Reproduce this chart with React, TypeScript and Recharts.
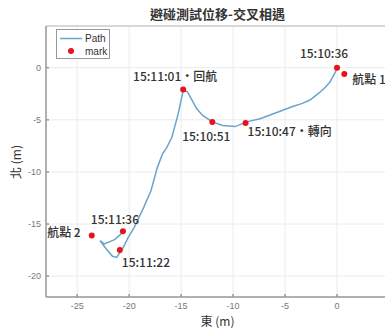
import React from 'react'
import {
  ScatterChart,
  Scatter,
  XAxis,
  YAxis,
  CartesianGrid,
  ReferenceLine,
} from 'recharts'

// 軌跡座標（東、北，單位 m），依時間順序
const pathEast = [
  0, -0.2, -0.7, -1.2, -1.7, -2.6, -3.4, -4.2, -5.8, -7.4, -8.7, -9.8, -11.0,
  -12.0, -12.9, -13.5, -13.9, -14.4, -14.8, -15.3, -15.9, -16.4, -16.8, -17.3,
  -17.9, -18.6, -19.5, -20.1, -20.6, -21.2, -21.6, -22.2, -22.8, -22.4, -21.4,
  -20.6,
]
const pathNorth = [
  0, -0.5, -1.4, -1.95, -2.4, -3.1, -3.45, -3.7, -4.3, -4.9, -5.2, -5.65, -5.55,
  -5.2, -4.6, -3.95, -3.2, -2.3, -2.2, -4.5, -6.7, -7.7, -8.3, -9.6, -11.8,
  -13.4, -15.3, -16.3, -17.3, -18.2, -18.1, -17.4, -16.6, -16.9, -16.5, -15.8,
]

// 標記點
const markEast = [0, 0.7, -14.8, -12.0, -8.8, -23.6, -20.6, -20.9]
const markNorth = [0, -0.6, -2.1, -5.2, -5.3, -16.1, -15.7, -17.5]
const markText = [
  '15:10:36',
  '航點 1',
  '15:11:01·回航',
  '15:10:51',
  '15:10:47·轉向',
  '航點 2',
  '15:11:36',
  '15:11:22',
]

const xTicks = [-25, -20, -15, -10, -5, 0]
const yTicks = [-20, -15, -10, -5, 0]

// 標籤相對於標記點的擺放
const labelPlacement: { dx: number; dy: number; anchor: 'start' | 'middle' | 'end' }[] = [
  { dx: -13, dy: -15, anchor: 'middle' },
  { dx: 8, dy: 5, anchor: 'start' },
  { dx: -8, dy: -14, anchor: 'middle' },
  { dx: -6, dy: 14, anchor: 'middle' },
  { dx: 2, dy: 8, anchor: 'start' },
  { dx: -11, dy: -4, anchor: 'end' },
  { dx: -8, dy: -13, anchor: 'middle' },
  { dx: 2, dy: 11, anchor: 'start' },
]

const pathData = pathEast.map((x, i) => ({ x, y: pathNorth[i] }))
const markData = markEast.map((x, i) => ({ x, y: markNorth[i], text: markText[i], idx: i }))

const PATH_COLOR = '#6aa4cb'
const MARK_COLOR = '#e8121a'
const CJK = '"Noto Sans CJK TC", "Noto Sans", sans-serif'
const TICK_FONT = '"Liberation Sans", Arial, sans-serif'

const MarkShape = (props: any) => {
  const { cx, cy, payload } = props
  const p = labelPlacement[payload.idx]
  return (
    <g>
      <circle cx={cx} cy={cy} r={3} fill={MARK_COLOR} />
      <text
        x={cx + p.dx}
        y={cy + p.dy}
        textAnchor={p.anchor}
        dominantBaseline="central"
        fontSize={12}
        fontFamily={CJK}
        fontWeight={500}
        fill="#333"
      >
        {payload.text}
      </text>
    </g>
  )
}

export default function App() {
  return (
    <div
      style={{
        position: 'absolute',
        left: 0,
        top: 0,
        width: 385,
        height: 329,
        overflow: 'hidden',
        background: '#fff',
      }}
    >
      <ScatterChart
        width={400}
        height={329}
        margin={{ top: 26, right: 11, bottom: 0, left: 0 }}
      >
        <CartesianGrid stroke="#ebebeb" strokeWidth={1} />
        <XAxis
          type="number"
          dataKey="x"
          domain={[-28, 5]}
          ticks={xTicks}
          allowDataOverflow
          height={32}
          tickSize={-3}
          tickMargin={9}
          stroke="#999"
          strokeWidth={1.5}
          tick={{ fontSize: 9, fill: '#777', fontFamily: TICK_FONT }}
        />
        <YAxis
          type="number"
          dataKey="y"
          domain={[-22, 4]}
          ticks={yTicks}
          allowDataOverflow
          width={46}
          tickSize={-3}
          tickMargin={8}
          stroke="#999"
          strokeWidth={1.5}
          tick={{ fontSize: 9, fill: '#777', fontFamily: TICK_FONT }}
        />
        <ReferenceLine y={4} stroke="#bbb" strokeWidth={1} />
        <Scatter
          data={pathData}
          line={{ stroke: PATH_COLOR, strokeWidth: 1.5 }}
          lineType="joint"
          shape={() => <g />}
          isAnimationActive={false}
        />
        <Scatter data={markData} shape={MarkShape} isAnimationActive={false} />
      </ScatterChart>

      {/* 標題 */}
      <div
        style={{
          position: 'absolute',
          left: 46,
          width: 343,
          top: 5,
          textAlign: 'center',
          fontFamily: CJK,
          fontSize: 13,
          fontWeight: 700,
          color: '#333',
          lineHeight: '18px',
        }}
      >
        避碰測試位移-交叉相遇
      </div>

      {/* 座標軸名稱 */}
      <div
        style={{
          position: 'absolute',
          left: 46,
          width: 343,
          top: 313,
          textAlign: 'center',
          fontFamily: CJK,
          fontSize: 12,
          color: '#333',
          lineHeight: '16px',
        }}
      >
        東 (m)
      </div>
      <div
        style={{
          position: 'absolute',
          left: 16 - 40,
          top: 162 - 8,
          width: 80,
          textAlign: 'center',
          transform: 'rotate(-90deg)',
          fontFamily: CJK,
          fontSize: 12,
          color: '#333',
          lineHeight: '16px',
        }}
      >
        北 (m)
      </div>

      {/* 圖例 */}
      <div
        style={{
          position: 'absolute',
          left: 56,
          top: 29,
          width: 52,
          height: 28,
          border: '1px solid #999',
          background: '#fff',
          fontFamily: TICK_FONT,
          fontSize: 10,
          color: '#333',
        }}
      >
        <svg width={52} height={28} style={{ position: 'absolute', left: 0, top: 0 }}>
          <line x1={3} y1={8.5} x2={25} y2={8.5} stroke={PATH_COLOR} strokeWidth={1.5} />
          <circle cx={14} cy={21} r={3} fill={MARK_COLOR} />
          <text x={28} y={8.5} dominantBaseline="central" fontSize={10} fill="#333">
            Path
          </text>
          <text x={28} y={21} dominantBaseline="central" fontSize={10} fill="#333">
            mark
          </text>
        </svg>
      </div>
    </div>
  )
}
